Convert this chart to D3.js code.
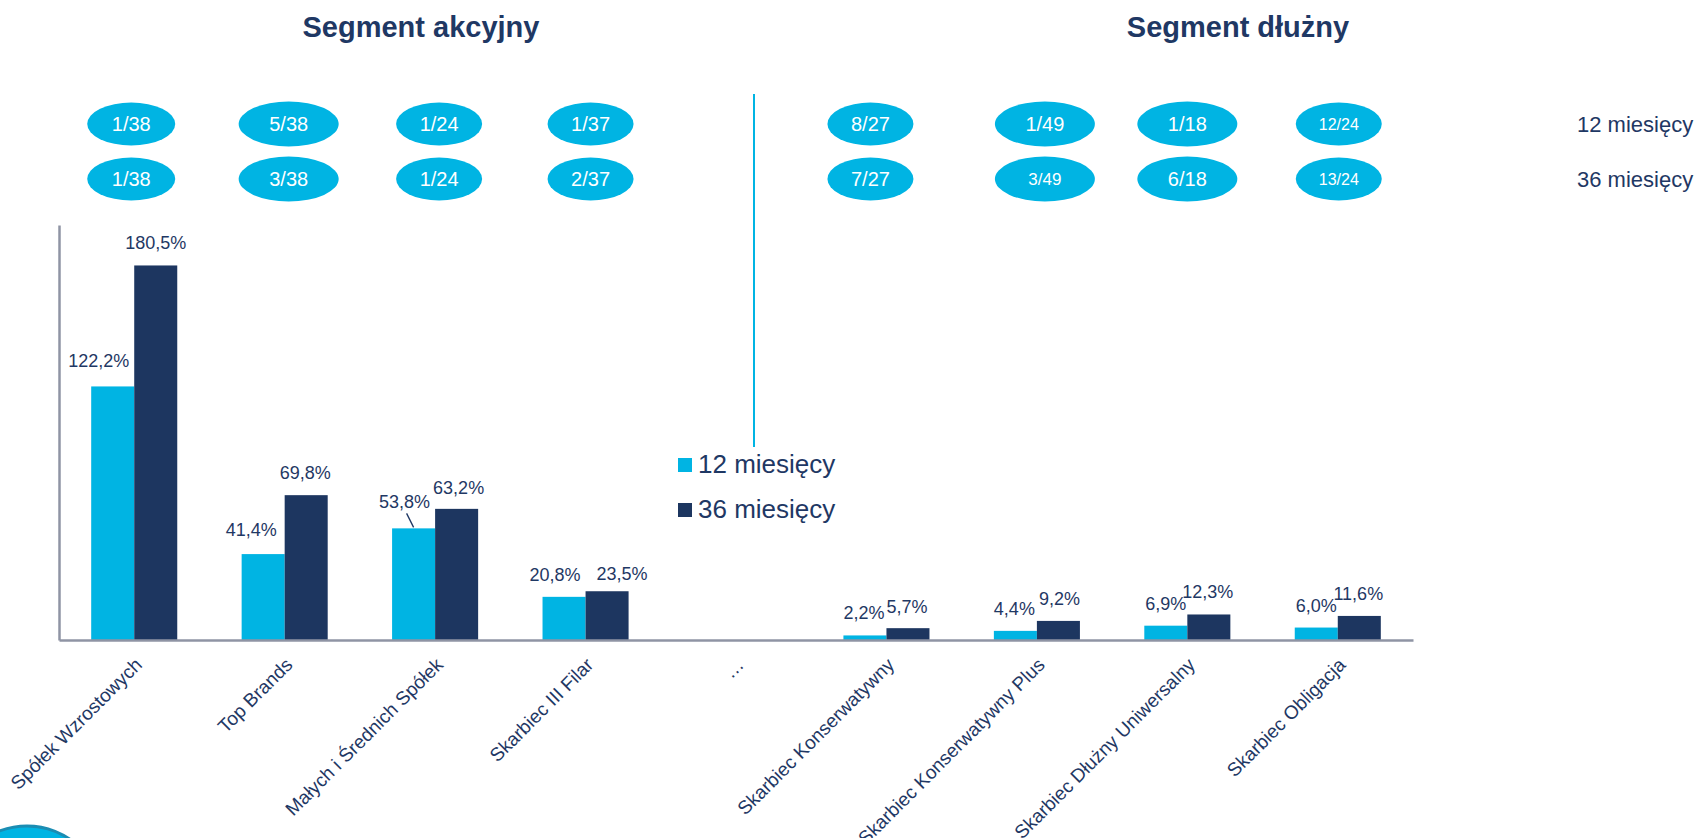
<!DOCTYPE html>
<html>
<head>
<meta charset="utf-8">
<script src="https://cdnjs.cloudflare.com/ajax/libs/d3/7.8.5/d3.min.js"></script>
<style>
  body { margin: 0; background: #fff; }
  svg { display: block; font-family: Arial, 'Liberation Sans', sans-serif; }
</style>
</head>
<body>
<svg id="chart" width="1701" height="838"></svg>
<script>
// data
const categories = ['Spółek Wzrostowych', 'Top Brands', 'Małych i Średnich Spółek', 'Skarbiec III Filar', '…',
    'Skarbiec Konserwatywny', 'Skarbiec Konserwatywny Plus', 'Skarbiec Dłużny Uniwersalny', 'Skarbiec Obligacja'];
const seriesNames = ['12 miesięcy', '36 miesięcy'];
const values12 = [122.2, 41.4, 53.8, 20.8, null, 2.2, 4.4, 6.9, 6.0];
const values36 = [180.5, 69.8, 63.2, 23.5, null, 5.7, 9.2, 12.3, 11.6];
const rank12 = ['1/38', '5/38', '1/24', '1/37', null, '8/27', '1/49', '1/18', '12/24'];
const rank36 = ['1/38', '3/38', '1/24', '2/37', null, '7/27', '3/49', '6/18', '13/24'];
const segmentTitles = ['Segment akcyjny', 'Segment dłużny'];

// layout tweaks (label nudges, oval sizes) - not data
const labelNudge = [
    [[-14, -3], [-12, -2], [-9, -4], [-9, 0], null, [-1, 0], [-1, 0], [0, 0], [0, 0]],
    [[0, 0], [-1, 0], [2, 1], [15, 5], null, [-1, 1], [1, 0], [-1, 0], [-1, 0]]
];
const ovalDx = [-3, 4, 4, 5, 0, -16, 8, 0, 1];
const ovalW = [88, 100, 86, 86, 0, 86, 100, 100, 86];
const ovalFont12 = [20, 20, 20, 20, 0, 20, 20, 20, 16];
const ovalFont36 = [20, 20, 20, 20, 0, 20, 17, 20, 16];

const colors = ['#00b4e3', '#1d3660'];
const textColor = '#1f3864';
const axisColor = '#8f94a4';

const svg = d3.select('#chart');

const plot = { left: 59, right: 1413, top: 225, bottom: 640 };

const x = d3.scaleBand()
    .domain(d3.range(categories.length))
    .range([plot.left, plot.right])
    .paddingInner(0.428)
    .paddingOuter(0.214);

const xs = d3.scaleBand()
    .domain([0, 1])
    .range([0, x.bandwidth()]);

const y = d3.scaleLinear()
    .domain([0, 200])
    .range([plot.bottom, plot.top]);

const fmt = d3.formatLocale({ decimal: ',', thousands: ' ', grouping: [3], currency: ['', ''] }).format('.1f');

// decorative circle bottom left
svg.append('circle')
    .attr('cx', 27).attr('cy', 902).attr('r', 76)
    .attr('fill', '#00b4e3').attr('stroke', '#1b8db3').attr('stroke-width', 3);

// titles
svg.selectAll('.seg-title')
    .data(segmentTitles)
    .join('text')
    .attr('class', 'seg-title')
    .attr('x', (d, i) => i === 0 ? 421 : 1238)
    .attr('y', 37)
    .attr('text-anchor', 'middle')
    .attr('font-size', 29)
    .attr('font-weight', 'bold')
    .attr('fill', textColor)
    .text(d => d);

// divider between segments
svg.append('line')
    .attr('x1', 754).attr('x2', 754)
    .attr('y1', 94).attr('y2', 447)
    .attr('stroke', '#00b4e3').attr('stroke-width', 2);

// bars
const series = [values12, values36];
series.forEach((vals, s) => {
    svg.append('g')
        .selectAll('rect')
        .data(vals.map((v, i) => ({ v, i })).filter(d => d.v !== null))
        .join('rect')
        .attr('x', d => x(d.i) + xs(s))
        .attr('width', xs.bandwidth())
        .attr('y', d => y(d.v))
        .attr('height', d => y(0) - y(d.v))
        .attr('fill', colors[s]);
});

// axes
const yAxis = d3.axisLeft(y).tickValues([]).tickSizeOuter(0);
svg.append('g').attr('class', 'y-axis').attr('transform', `translate(${plot.left},0)`).call(yAxis);

const xAxis = d3.axisBottom(x).tickSize(0).tickPadding(0).tickSizeOuter(0).tickFormat(i => categories[i]);
const gx = svg.append('g').attr('class', 'x-axis').attr('transform', `translate(0,${plot.bottom})`).call(xAxis);
gx.selectAll('text')
    .attr('transform', 'translate(9,26) rotate(-45)')
    .attr('text-anchor', 'end')
    .attr('dy', 0)
    .attr('y', 0)
    .attr('font-size', 19)
    .attr('font-family', 'Arial, "Liberation Sans", sans-serif')
    .attr('fill', textColor);

svg.selectAll('.y-axis path, .x-axis path')
    .attr('stroke', axisColor)
    .attr('stroke-width', 2.5);

// value labels
series.forEach((vals, s) => {
    svg.append('g')
        .selectAll('text')
        .data(vals.map((v, i) => ({ v, i })).filter(d => d.v !== null))
        .join('text')
        .attr('x', d => x(d.i) + xs(s) + xs.bandwidth() / 2 + labelNudge[s][d.i][0])
        .attr('y', d => y(d.v) - 16 + labelNudge[s][d.i][1])
        .attr('text-anchor', 'middle')
        .attr('font-size', 18)
        .attr('fill', textColor)
        .text(d => fmt(d.v) + '%');
});

// leader line for 53,8%
svg.append('line')
    .attr('x1', x(2) + xs(0) + xs.bandwidth() / 2 - 7)
    .attr('y1', y(values12[2]) - 15)
    .attr('x2', x(2) + xs(0) + xs.bandwidth() / 2)
    .attr('y2', y(values12[2]) - 1)
    .attr('stroke', textColor).attr('stroke-width', 1.3);

// rank ovals
const ranks = [rank12, rank36];
const ovalY = [124, 179];
ranks.forEach((r, row) => {
    const g = svg.append('g')
        .selectAll('g')
        .data(r.map((t, i) => ({ t, i })).filter(d => d.t !== null))
        .join('g')
        .attr('transform', d => `translate(${x(d.i) + x.bandwidth() / 2 + ovalDx[d.i]},${ovalY[row]})`);
    g.append('ellipse')
        .attr('rx', d => ovalW[d.i] / 2)
        .attr('ry', d => (ovalW[d.i] > 90 ? 45 : 43) / 2)
        .attr('fill', '#00b4e3');
    g.append('text')
        .attr('text-anchor', 'middle')
        .attr('dy', '0.36em')
        .attr('font-size', d => (row === 0 ? ovalFont12 : ovalFont36)[d.i])
        .attr('fill', '#fff')
        .text(d => d.t);
});

// row labels at right
svg.selectAll('.row-label')
    .data(seriesNames)
    .join('text')
    .attr('class', 'row-label')
    .attr('x', 1577)
    .attr('y', (d, i) => [132, 187][i])
    .attr('font-size', 22)
    .attr('fill', textColor)
    .text(d => d);

// legend
const legend = svg.append('g').attr('transform', 'translate(678,473)');
legend.selectAll('rect')
    .data(seriesNames)
    .join('rect')
    .attr('x', 0)
    .attr('y', (d, i) => i * 45 - 15)
    .attr('width', 14).attr('height', 14)
    .attr('fill', (d, i) => colors[i]);
legend.selectAll('text')
    .data(seriesNames)
    .join('text')
    .attr('x', 20)
    .attr('y', (d, i) => i * 45)
    .attr('font-size', 26)
    .attr('fill', textColor)
    .text(d => d);
</script>
</body>
</html>
